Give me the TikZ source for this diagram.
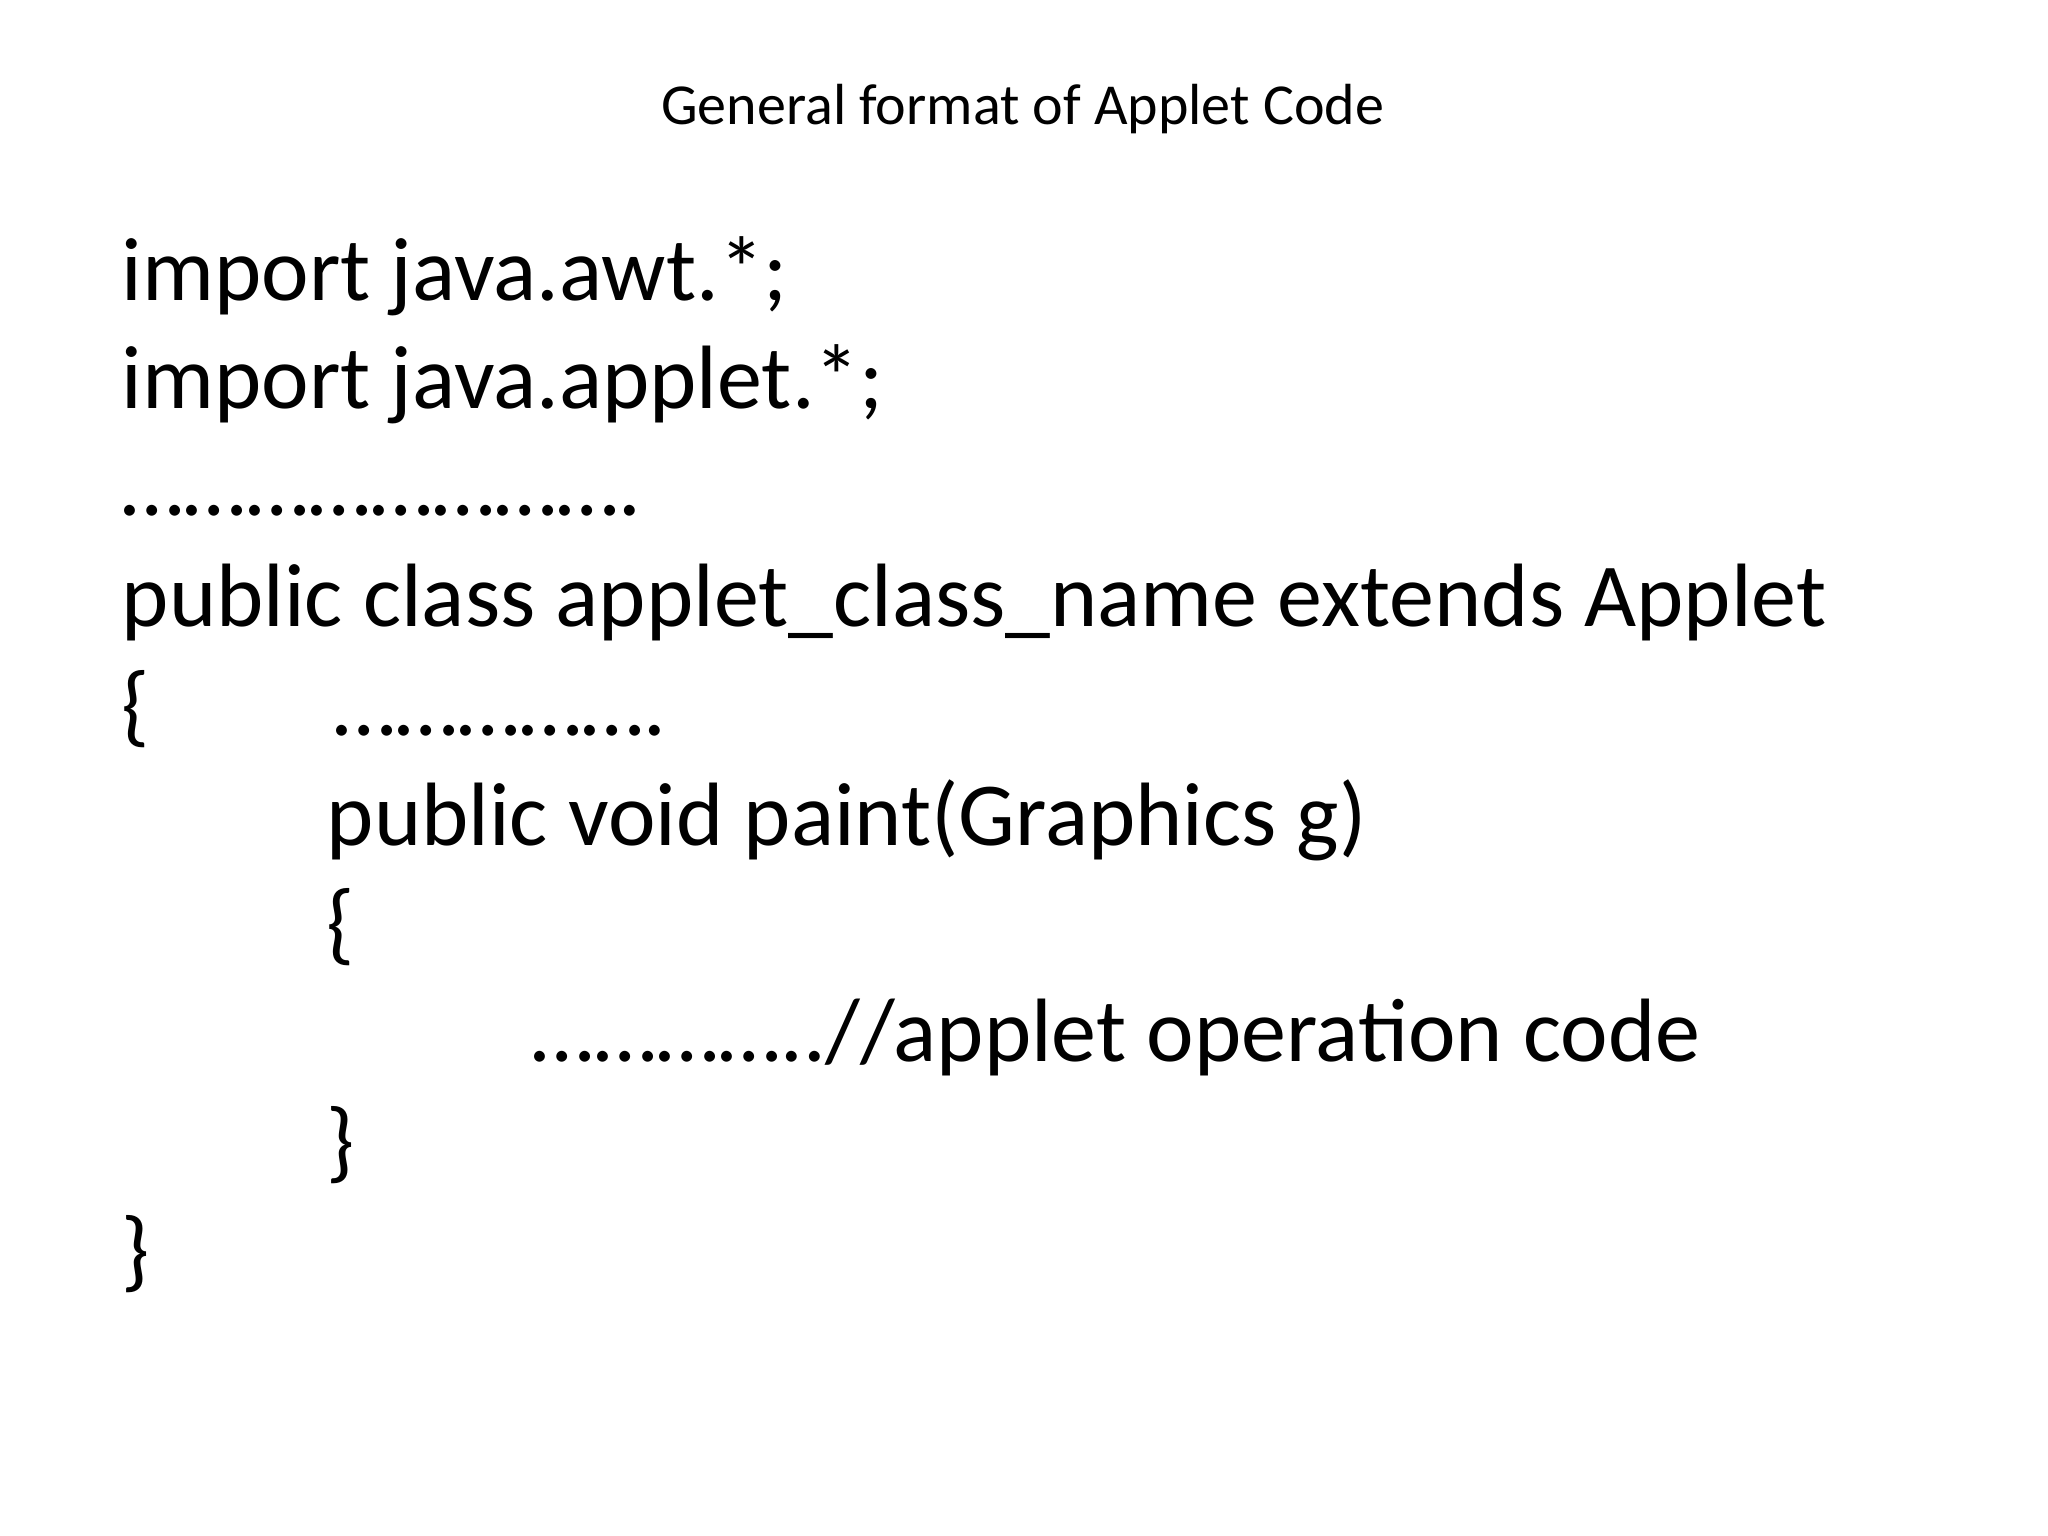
\documentclass[tikz,border=0pt]{standalone}
\usepackage{fontspec}
\setmainfont{Carlito}
\begin{document}
\begin{tikzpicture}[x=0.653pt,y=-0.653pt,
  code/.style={anchor=base west,inner sep=0pt,font=\fontsize{45}{54}\selectfont}]
\useasboundingbox (0,0) rectangle (1568,1176);
\node[anchor=base,inner sep=0pt,font=\fontsize{29}{35}\selectfont] (title) at (783,95) {General format of Applet Code};
\node[code] (l1) at (93,230) {import java.awt.*;};
\node[code] (l2) at (93,313) {import java.applet.*;};
\node[code] (l3) at (93,395) {…………………….};
\node[code] (l4) at (93,480) {public class applet\_class\_name extends Applet};
\node[code] (l5) at (93,563) {\{};
\node[code] (l5b) at (255,563) {…………….};
\node[code] (l6) at (250,647) {public void paint(Graphics g)};
\node[code] (l7) at (250,730) {\{};
\node[code] (l8) at (407,813) {…………..//applet operation code};
\node[code] (l9) at (250,897) {\}};
\node[code] (l10) at (93,980) {\}};
\end{tikzpicture}
\end{document}
